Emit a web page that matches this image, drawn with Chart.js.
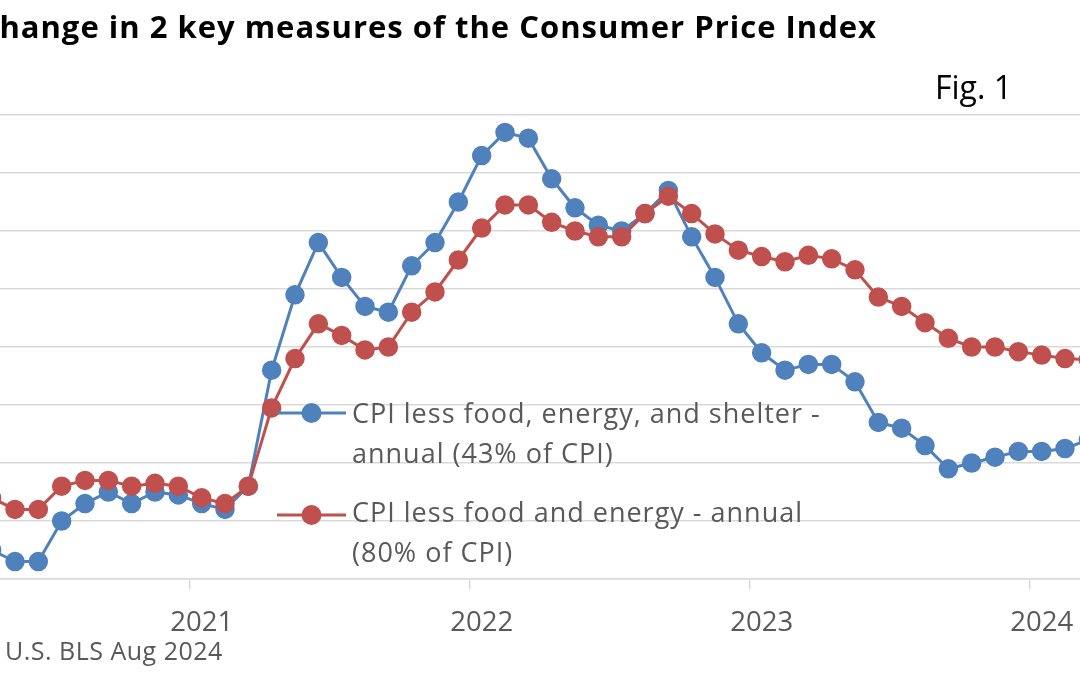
<!DOCTYPE html>
<html>
<head>
<meta charset="utf-8">
<script src="https://cdn.jsdelivr.net/npm/chart.js@4.4.1/dist/chart.umd.min.js"></script>
<style>
  html, body { margin: 0; padding: 0; background: #ffffff; }
  #stage { position: relative; width: 1080px; height: 675px; overflow: hidden; background: #ffffff; }
  #wrap { position: absolute; left: -100px; top: 0; width: 1300px; height: 675px; }
</style>
</head>
<body>
<div id="stage">
  <div id="wrap"><canvas id="c" width="1300" height="675"></canvas></div>
</div>
<script>
// ---- data ----
const categories = [
  'Apr 2020','May 2020','Jun 2020','Jul 2020','Aug 2020','Sep 2020','Oct 2020','Nov 2020','Dec 2020',
  'Jan 2021','Feb 2021','Mar 2021','Apr 2021','May 2021','Jun 2021','Jul 2021','Aug 2021','Sep 2021','Oct 2021','Nov 2021','Dec 2021',
  'Jan 2022','Feb 2022','Mar 2022','Apr 2022','May 2022','Jun 2022','Jul 2022','Aug 2022','Sep 2022','Oct 2022','Nov 2022','Dec 2022',
  'Jan 2023','Feb 2023','Mar 2023','Apr 2023','May 2023','Jun 2023','Jul 2023','Aug 2023','Sep 2023','Oct 2023','Nov 2023','Dec 2023',
  'Jan 2024','Feb 2024','Mar 2024'
];
const lessFoodEnergyShelter = [
  0.5, 0.3, 0.3, 1.0, 1.3, 1.5, 1.3, 1.5, 1.45,
  1.3, 1.2, 1.6, 3.6, 4.9, 5.8, 5.2, 4.7, 4.6, 5.4, 5.8, 6.5,
  7.3, 7.7, 7.6, 6.9, 6.4, 6.1, 6.0, 6.3, 6.7, 5.9, 5.2, 4.4,
  3.9, 3.6, 3.7, 3.7, 3.4, 2.7, 2.6, 2.3, 1.9, 2.0, 2.1, 2.2,
  2.2, 2.25, 2.4
];
const lessFoodEnergy = [
  1.4, 1.2, 1.2, 1.6, 1.7, 1.7, 1.6, 1.65, 1.6,
  1.4, 1.3, 1.6, 2.95, 3.8, 4.4, 4.2, 3.95, 4.0, 4.6, 4.95, 5.5,
  6.05, 6.45, 6.45, 6.15, 6.0, 5.9, 5.9, 6.3, 6.6, 6.3, 5.95, 5.67,
  5.56, 5.47, 5.58, 5.52, 5.33, 4.86, 4.7, 4.42, 4.15, 4.0, 4.0, 3.92,
  3.86, 3.8, 3.78
];
const seriesNames = [
  ['CPI less food, energy, and shelter -', 'annual (43% of CPI)'],
  ['CPI less food and energy - annual', '(80% of CPI)']
];
const yTicks = [0, 1, 2, 3, 4, 5, 6, 7, 8];
const titleText = 'Change in 2 key measures of the Consumer Price Index';
const figText = 'Fig. 1';
const sourceText = 'U.S. BLS Aug 2024';

const BLUE = '#4F81BD';
const RED = '#C0504D';
const GRID = '#D9D9D9';
const TEXT = '#595959';
const FONT = '"Open Sans"';
const OX = 100; // canvas offset relative to visible page

const overlay = {
  id: 'overlay',
  afterDraw(chart) {
    const ctx = chart.ctx;
    ctx.save();
    ctx.textBaseline = 'alphabetic';
    // title
    ctx.fillStyle = '#000000';
    ctx.font = 'bold 31px ' + FONT;
    ctx.letterSpacing = '1px';
    ctx.textAlign = 'right';
    ctx.fillText(titleText, 877 + OX, 38);
    // fig label
    ctx.letterSpacing = '0px';
    ctx.font = '32px ' + FONT;
    ctx.textAlign = 'left';
    ctx.fillText(figText, 935 + OX, 99);
    // source
    ctx.fillStyle = TEXT;
    ctx.font = '25px ' + FONT;
    ctx.letterSpacing = '0.5px';
    ctx.fillText(sourceText, 5 + OX, 660);
    // legend
    const entries = [
      { color: BLUE, y: 413, lines: seriesNames[0], base: [423, 463] },
      { color: RED, y: 515, lines: seriesNames[1], base: [522, 562] }
    ];
    entries.forEach(e => {
      ctx.strokeStyle = e.color;
      ctx.lineWidth = 3;
      ctx.beginPath();
      ctx.moveTo(277 + OX, e.y);
      ctx.lineTo(346 + OX, e.y);
      ctx.stroke();
      ctx.fillStyle = e.color;
      ctx.beginPath();
      ctx.arc(311.5 + OX, e.y, 10, 0, Math.PI * 2);
      ctx.fill();
      ctx.fillStyle = TEXT;
      ctx.font = '27px ' + FONT;
      ctx.letterSpacing = '1px';
      ctx.textAlign = 'left';
      e.lines.forEach((t, i) => ctx.fillText(t, 352 + OX, e.base[i]));
    });
    ctx.restore();
  }
};

new Chart(document.getElementById('c'), {
  type: 'line',
  data: {
    labels: categories,
    datasets: [
      {
        label: seriesNames[0].join(' '),
        data: lessFoodEnergyShelter,
        borderColor: BLUE, backgroundColor: BLUE,
        pointBackgroundColor: BLUE, pointBorderColor: BLUE,
        borderWidth: 3, pointRadius: 9, pointBorderWidth: 1.5,
        tension: 0, order: 1
      },
      {
        label: seriesNames[1].join(' '),
        data: lessFoodEnergy,
        borderColor: RED, backgroundColor: RED,
        pointBackgroundColor: RED, pointBorderColor: RED,
        borderWidth: 3, pointRadius: 9, pointBorderWidth: 1.5,
        tension: 0, order: 0
      }
    ]
  },
  options: {
    responsive: false,
    animation: false,
    devicePixelRatio: 1,
    layout: { padding: { left: 80, right: 100, top: 115, bottom: 0 } },
    plugins: { legend: { display: false }, tooltip: { enabled: false }, title: { display: false } },
    scales: {
      x: {
        type: 'category',
        offset: true,
        afterFit: (s) => { s.height = 96; },
        grid: {
          offset: true,
          drawOnChartArea: false,
          drawTicks: true,
          tickLength: 10,
          lineWidth: 1.5,
          color: GRID,
          tickColor: (c) => (c.index < categories.length && categories[c.index].startsWith('Jan')) ? GRID : 'rgba(0,0,0,0)'
        },
        border: { display: true, color: GRID, width: 1.5 },
        ticks: {
          autoSkip: false,
          maxRotation: 0,
          minRotation: 0,
          padding: 18,
          color: TEXT,
          font: { family: 'Open Sans', size: 27.5 },
          callback: (v, i) => categories[i].startsWith('Jan') ? categories[i].slice(4) : ''
        }
      },
      y: {
        min: yTicks[0],
        max: yTicks[yTicks.length - 1],
        afterBuildTicks: (s) => { s.ticks = yTicks.map(v => ({ value: v })); },
        grid: { color: GRID, lineWidth: 1.5, drawTicks: false },
        border: { display: false },
        ticks: { display: false }
      }
    }
  },
  plugins: [overlay]
});
</script>
</body>
</html>
